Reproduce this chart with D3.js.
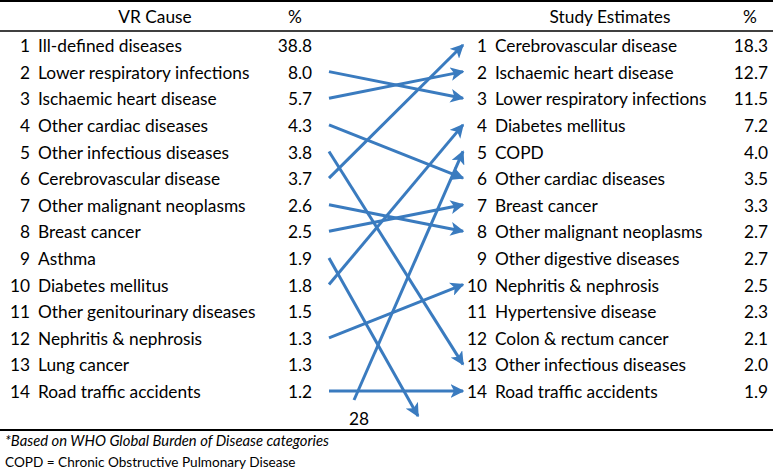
<!DOCTYPE html>
<html><head><meta charset="utf-8">
<script src="https://cdn.jsdelivr.net/npm/d3@7"></script>
<style>body{margin:0;background:#fff}svg{display:block}text{font-family:Lato,"Open Sans",sans-serif;fill:#000}</style>
</head><body><svg id="c" width="773" height="469"></svg>
<script>
const vrCauses = ["Ill-defined diseases","Lower respiratory infections","Ischaemic heart disease","Other cardiac diseases","Other infectious diseases","Cerebrovascular disease","Other malignant neoplasms","Breast cancer","Asthma","Diabetes mellitus","Other genitourinary diseases","Nephritis & nephrosis","Lung cancer","Road traffic accidents"];
const vrValues = ["38.8","8.0","5.7","4.3","3.8","3.7","2.6","2.5","1.9","1.8","1.5","1.3","1.3","1.2"];
const studyCauses = ["Cerebrovascular disease","Ischaemic heart disease","Lower respiratory infections","Diabetes mellitus","COPD","Other cardiac diseases","Breast cancer","Other malignant neoplasms","Other digestive diseases","Nephritis & nephrosis","Hypertensive disease","Colon & rectum cancer","Other infectious diseases","Road traffic accidents"];
const studyValues = ["18.3","12.7","11.5","7.2","4.0","3.5","3.3","2.7","2.7","2.5","2.3","2.1","2.0","1.9"];
// [VR rank, study rank]; rank beyond 14 = outside the list
const linkFrom = [2,3,4,5,6,7,8,9,10,12,14,28];
const linkTo   = [3,2,6,13,1,8,7,null,4,10,14,5];
const headers = {left:"VR Cause", right:"Study Estimates", pct:"%"};
const footnotes = ["*Based on WHO Global Burden of Disease categories","COPD = Chronic Obstructive Pulmonary Disease"];

const svg = d3.select("#c");
const W = 773;
const blue = "#3a7bbf";
const fs = 17.3;
const y = d3.scalePoint().domain(d3.range(1,15)).range([46,392]);

// rules
svg.append("line").attr("x1",0).attr("x2",W).attr("y1",1).attr("y2",1).attr("stroke","#000").attr("stroke-width",2);
svg.append("line").attr("x1",0).attr("x2",W).attr("y1",31).attr("y2",31).attr("stroke","#000").attr("stroke-width",1.5);
svg.append("line").attr("x1",0).attr("x2",W).attr("y1",430).attr("y2",430).attr("stroke","#000").attr("stroke-width",2);

// headers
svg.append("text").attr("x",155).attr("y",17).attr("dy","0.35em").attr("text-anchor","middle").attr("font-size",fs).text(headers.left);
svg.append("text").attr("x",295).attr("y",17).attr("dy","0.35em").attr("text-anchor","middle").attr("font-size",fs).text(headers.pct);
svg.append("text").attr("x",610).attr("y",17).attr("dy","0.35em").attr("text-anchor","middle").attr("font-size",fs).text(headers.right);
svg.append("text").attr("x",750).attr("y",17).attr("dy","0.35em").attr("text-anchor","middle").attr("font-size",fs).text(headers.pct);

function table(causes, values, xRank, xText, xVal){
  const g = svg.append("g");
  const rows = g.selectAll("g").data(causes).join("g").attr("transform",(d,i)=>`translate(0,${y(i+1)})`);
  rows.append("text").attr("x",xRank).attr("dy","0.35em").attr("text-anchor","end").attr("font-size",fs).text((d,i)=>i+1);
  rows.append("text").attr("x",xText).attr("dy","0.35em").attr("font-size",fs).text(d=>d);
  rows.append("text").attr("x",xVal).attr("dy","0.35em").attr("text-anchor","end").attr("font-size",fs).text((d,i)=>values[i]);
}
table(vrCauses, vrValues, 30, 38, 312);
table(studyCauses, studyValues, 487, 495, 768);

// arrows
const defs = svg.append("defs");
defs.append("marker").attr("id","ah").attr("viewBox","0 0 10 10").attr("refX",9).attr("refY",5)
  .attr("markerWidth",4.6).attr("markerHeight",4.6).attr("orient","auto").attr("markerUnits","strokeWidth")
  .append("path").attr("d","M0,0L10,5L0,10L2.5,5Z").attr("fill",blue);

const xL = 329, xR = 463;
const offY = y(14) + 24;
const links = linkFrom.map((f,i)=>({f, t:linkTo[i]}));
links.forEach(l=>{
  let x1, y1, x2, y2;
  if (l.f <= 14){ x1 = xL; y1 = y(l.f) - 1; } else { x1 = 354; y1 = y(14) + 8; }
  if (l.t !== null){ x2 = xR; y2 = y(l.t) - 1; } else { x2 = 418; y2 = offY; }
  svg.append("line").attr("x1",x1).attr("y1",y1).attr("x2",x2).attr("y2",y2)
    .attr("stroke",blue).attr("stroke-width",3).attr("marker-end","url(#ah)");
  if (l.f > 14){
    svg.append("text").attr("x",359).attr("y",419).attr("dy","0.35em").attr("text-anchor","middle").attr("font-size",fs).text(l.f);
  }
});

// footnotes
svg.append("text").attr("x",5).attr("y",441).attr("dy","0.35em").attr("font-size",14.8).attr("font-style","italic").text(footnotes[0]);
svg.append("text").attr("x",5).attr("y",462).attr("dy","0.35em").attr("font-size",13.6).text(footnotes[1]);
</script></body></html>
